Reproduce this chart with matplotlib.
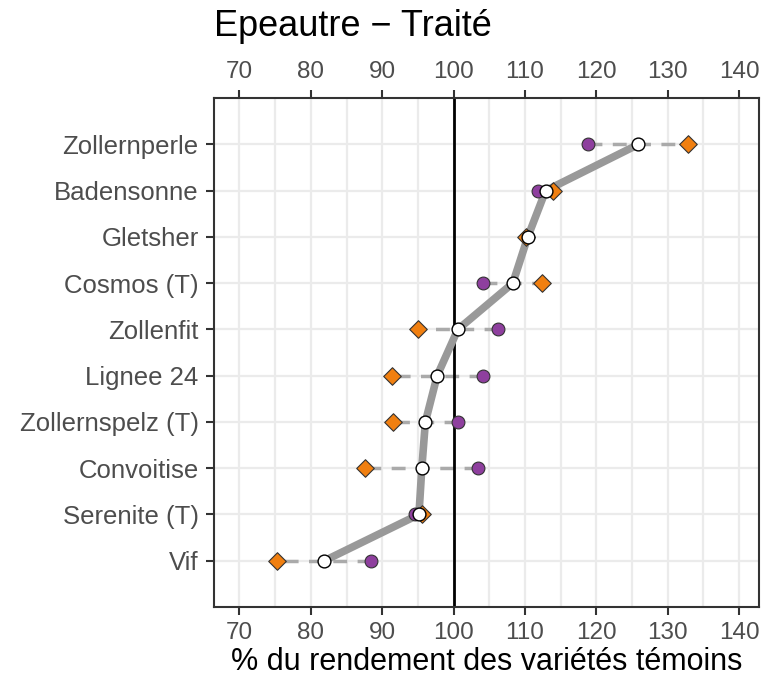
import matplotlib
matplotlib.use("Agg")
import matplotlib.pyplot as plt
import numpy as np

plt.rcParams['font.family'] = ['Liberation Sans', 'DejaVu Sans']

# varieties, bottom to top
varietes = ['Vif', 'Serenite (T)', 'Convoitise', 'Zollernspelz (T)', 'Lignee 24',
            'Zollenfit', 'Cosmos (T)', 'Gletsher', 'Badensonne', 'Zollernperle']
moyenne = [81.9, 95.15, 95.55, 96.05, 97.7, 100.6, 108.3, 110.4, 112.9, 125.9]
site_violet = [88.5, 94.6, 103.4, 100.6, 104.1, 106.2, 104.1, 110.3, 111.9, 118.8]
site_orange = [75.3, 95.6, 87.6, 91.5, 91.4, 95.05, 112.4, 110.2, 113.9, 132.9]
xticks = [70, 80, 90, 100, 110, 120, 130, 140]

fig = plt.figure(figsize=(7.69, 6.77), dpi=100)
ax = fig.add_axes([0.278, 0.1034, 0.709, 0.7516])

y = np.arange(1, len(varietes) + 1)

ax.set_xticks(xticks)
ax.set_xticks(np.arange(65, 145, 5), minor=True)
ax.set_xlim(66.4, 142.8)
ax.set_ylim(0, 11)
ax.set_yticks(y)
ax.set_yticklabels(varietes)
ax.grid(True, which='both', color='#ebebeb', linewidth=1.6)
ax.set_axisbelow(True)

# dashed line between the two sites
for yi, a, b in zip(y, site_violet, site_orange):
    ax.plot([a, b], [yi, yi], color='#aaaaaa', linewidth=2.5, linestyle=(0, (4, 3)), zorder=2)

ax.axvline(100, color='black', linewidth=2, zorder=2)
ax.plot(moyenne, y, color='#999999', linewidth=5.5, solid_capstyle='butt', zorder=3)

ax.scatter(site_violet, y, s=85, color='#8e3f9e', edgecolor='#333333', linewidth=0.8, zorder=4)
ax.scatter(site_orange, y, s=80, marker='D', color='#f07f10', edgecolor='#333333', linewidth=0.8, zorder=4)
ax.scatter(moyenne, y, s=85, color='white', edgecolor='black', linewidth=1.0, zorder=5)

ax.tick_params(axis='x', which='both', top=True, labeltop=True)
ax.tick_params(axis='both', which='major', colors='#333333', labelcolor='#4d4d4d',
               length=6, width=1.5, pad=5)
ax.tick_params(axis='x', which='major', labelsize=17.5)
ax.tick_params(axis='y', which='major', labelsize=18.5)
ax.tick_params(axis='both', which='minor', length=0)
for s in ax.spines.values():
    s.set_color('#333333')
    s.set_linewidth(1.5)

ax.set_xlabel('% du rendement des variétés témoins', fontsize=22, labelpad=2)
ax.set_title('Epeautre \u2212 Traité', fontsize=26, loc='left', pad=45)

fig.savefig('out.png', dpi=100)
